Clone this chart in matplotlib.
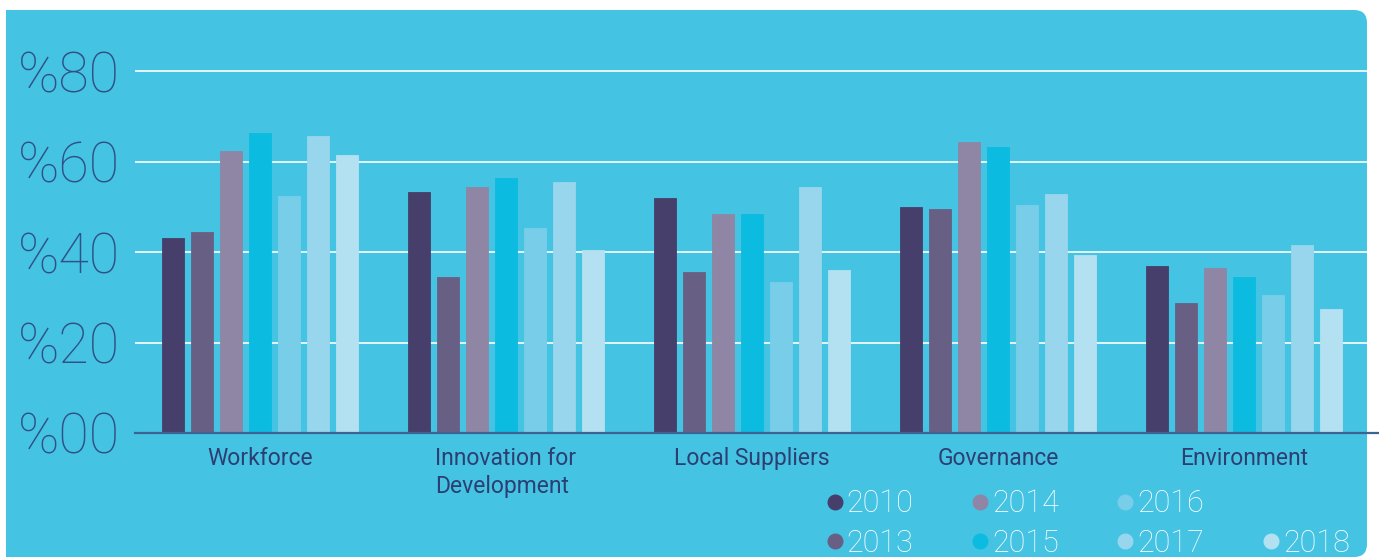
import matplotlib.pyplot as plt
import numpy as np
from matplotlib.patches import FancyBboxPatch, Rectangle
from matplotlib.lines import Line2D

# survey results per category, one list per year
categories = ["Workforce", "Innovation for\nDevelopment", "Local Suppliers", "Governance", "Environment"]
years = ["2010", "2013", "2014", "2015", "2016", "2017", "2018"]
v2010 = [43.1, 53.3, 52.0, 49.9, 36.8]
v2013 = [44.4, 34.4, 35.6, 49.4, 28.7]
v2014 = [62.3, 54.4, 48.5, 64.3, 36.5]
v2015 = [66.3, 56.4, 48.5, 63.3, 34.5]
v2016 = [52.3, 45.4, 33.4, 50.4, 30.5]
v2017 = [65.7, 55.4, 54.3, 52.9, 41.5]
v2018 = [61.5, 40.4, 36.0, 39.3, 27.3]
yticks = [0, 20, 40, 60, 80]

series = [v2010, v2013, v2014, v2015, v2016, v2017, v2018]
colors = ["#463f6b", "#685f85", "#8f86a5", "#0bbbe0", "#78cde9", "#97d6ec", "#b4e1f1"]
bg = "#45c3e3"
navy = "#2c3f73"

W, H = 1379, 559
fig = plt.figure(figsize=(W / 100, H / 100), dpi=100)
fig.patch.set_facecolor("white")

# blue panel drawn in pixel units: square on the left, rounded on the right
bgax = fig.add_axes([0, 0, 1, 1], zorder=0)
bgax.set_xlim(0, W)
bgax.set_ylim(H, 0)
bgax.axis("off")
bgax.add_patch(FancyBboxPatch((6, 10), 1367 - 6, 557 - 10,
                              boxstyle="round,pad=0,rounding_size=13", fc=bg, ec="none"))
bgax.add_patch(Rectangle((6, 10), 600, 557 - 10, fc=bg, ec="none"))

ax = fig.add_axes([135 / W, (H - 433) / H, (1367 - 135) / W, 384.6 / H], zorder=2)
ax.set_facecolor("none")

x = np.arange(len(categories))
step, width = 0.118, 0.0915
for i, (vals, c) in enumerate(zip(series, colors)):
    ax.bar(x + (i - 3) * step, vals, width, color=c, edgecolor=c, linewidth=0.6, zorder=3)

ax.set_xlim(-0.508, 4.5)
ax.set_ylim(0, 85)
ax.set_yticks(yticks)
ax.set_yticklabels([f"%{v:02d}" for v in yticks], fontsize=40, color="#2f5185",
                   fontfamily="Roboto", fontweight=100)
ax.set_xticks(x)
ax.set_xticklabels(categories, fontsize=16.5, color=navy, fontfamily="Roboto",
                   multialignment="left", linespacing=1.3)
ax.tick_params(axis="both", length=0)
ax.tick_params(axis="y", pad=11)
ax.tick_params(axis="x", pad=10)
for s in ax.spines.values():
    s.set_visible(False)
ax.yaxis.grid(True, color="white", linewidth=1.2, zorder=1)
ax.set_axisbelow(True)
ax.axhline(0, xmin=0, xmax=(1379 - 135) / (1367 - 135), color="#3d6394",
           linewidth=1.6, clip_on=False, zorder=4)

handles = [Line2D([], [], marker="o", linestyle="none", markersize=10.5,
                  markerfacecolor=c, markeredgecolor=c) for c in colors]
blank = Line2D([], [], linestyle="none")
hs = handles[:6] + [blank, handles[6]]
ls = years[:6] + ["", years[6]]
leg = fig.legend(hs, ls, ncol=4, loc="upper left", bbox_to_anchor=(811 / W, 1 - 474 / H),
                 frameon=False, handlelength=0.55, handletextpad=0.12, columnspacing=1.9,
                 labelspacing=0.35, borderpad=0,
                 prop={"family": "Roboto", "weight": "light", "size": 22})
leg.set_zorder(3)
for t in leg.get_texts():
    t.set_color("white")

fig.savefig("out.png", dpi=100, facecolor=fig.get_facecolor())
